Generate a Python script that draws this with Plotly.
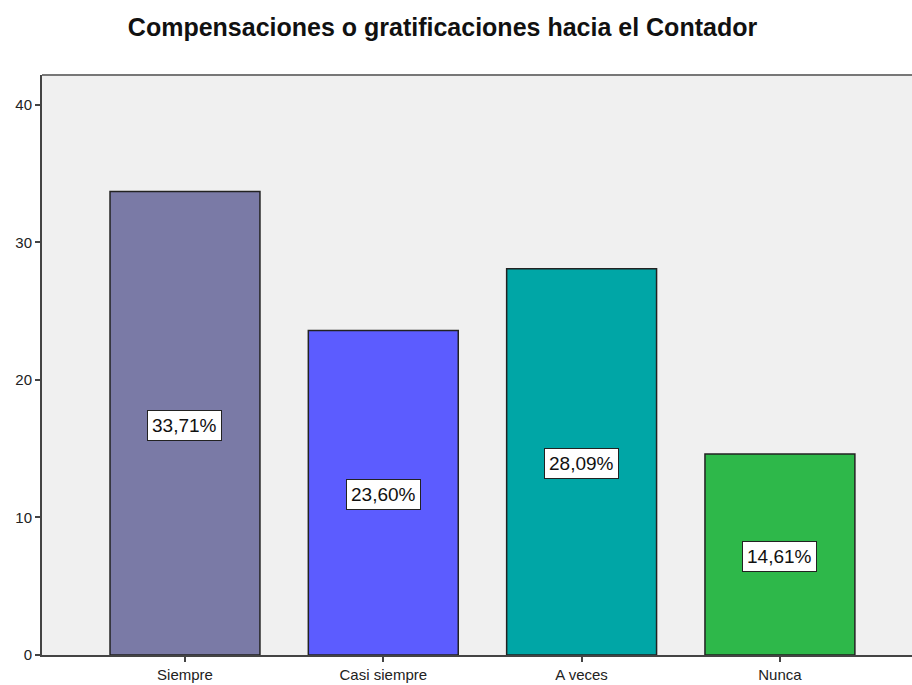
import plotly.graph_objects as go

categories = ["Siempre", "Casi siempre", "A veces", "Nunca"]
values = [33.71, 23.60, 28.09, 14.61]
labels = ["33,71%", "23,60%", "28,09%", "14,61%"]
colors = ["#7a7aa6", "#5c5cff", "#00a6a6", "#2eb84a"]
y_ticks = [0, 10, 20, 30, 40]

FONT = "Liberation Sans, Arial"

fig = go.Figure()
fig.add_trace(go.Bar(
    x=categories, y=values, width=0.756,
    marker=dict(color=colors, line=dict(color="#222222", width=1.5)),
    hoverinfo="skip",
))
for c, v, t in zip(categories, values, labels):
    fig.add_annotation(x=c, y=v / 2, text=t, showarrow=False, yshift=-2,
                       font=dict(family=FONT, size=19, color="#111111"),
                       bgcolor="white", bordercolor="#222222", borderwidth=1, borderpad=4)

fig.update_layout(
    width=912, height=685,
    margin=dict(l=42, r=0, t=75, b=30),
    paper_bgcolor="white", plot_bgcolor="#f0f0f0",
    showlegend=False,
    title=dict(text="<b>Compensaciones o gratificaciones hacia el Contador</b>",
               x=0.4852, xanchor="center", y=0.96, yanchor="middle",
               font=dict(family=FONT, size=25, color="#111111")),
    xaxis=dict(range=[-0.721, 3.666], showgrid=False, showline=True, linecolor="#444444",
               linewidth=2, ticks="outside", ticklen=5, tickcolor="#444444", tickwidth=2,
               tickfont=dict(family=FONT, size=15, color="#222222"),
               mirror=False, zeroline=False),
    yaxis=dict(range=[0, 42.18], tickvals=y_ticks, showgrid=False, showline=True,
               linecolor="#444444", linewidth=2, ticks="outside", ticklen=5,
               tickcolor="#444444", tickwidth=2, zeroline=False,
               tickfont=dict(family=FONT, size=15, color="#222222")),
)
fig.add_shape(type="line", xref="paper", yref="paper", x0=0, x1=1, y0=1, y1=1,
              line=dict(color="#777777", width=2))
fig.write_html("out.html", config={"displayModeBar": False},
               post_script="document.body.style.margin='0';document.body.style.overflow='hidden';")
